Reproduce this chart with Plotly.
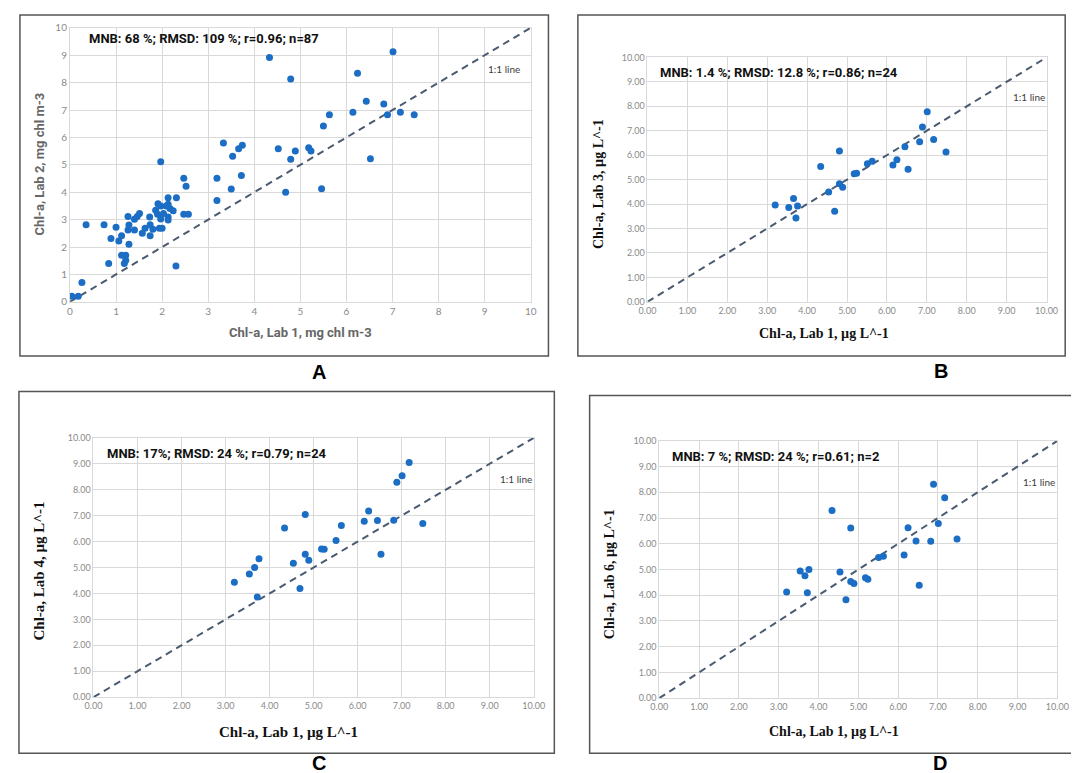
import plotly.graph_objects as go

W, H = 1079, 773

# ---------------- data ----------------
# Panel A: Lab 1 vs Lab 2
lab1_a = [0.04, 0.18, 0.26, 0.35, 0.74, 0.84, 0.89, 1.00, 1.06, 1.12, 1.12, 1.21, 1.18, 1.21,
          1.26, 1.26, 1.28, 1.28, 1.40, 1.40, 1.46, 1.51, 1.57, 1.63, 1.73, 1.74, 1.74, 1.80,
          1.86, 1.90, 1.91, 1.97, 1.97, 1.97, 1.94, 2.00, 2.03, 2.09, 2.13, 2.13, 2.13, 2.13,
          2.17, 2.24, 2.31, 2.30, 2.47, 2.52, 2.47, 2.57, 3.19, 3.19, 3.33, 3.50, 3.53, 3.66,
          3.74, 3.72, 4.33, 4.52, 4.68, 4.79, 4.79, 4.89, 5.18, 5.23, 5.46, 5.50, 5.63, 6.14,
          6.24, 6.43, 6.52, 6.81, 6.89, 7.01, 7.17, 7.47]
lab2_a = [0.20, 0.20, 0.71, 2.81, 2.81, 1.40, 2.31, 2.72, 2.22, 2.41, 1.70, 1.70, 1.40, 1.52,
          3.11, 2.62, 2.80, 2.10, 3.01, 2.62, 3.11, 3.22, 2.50, 2.69, 3.10, 2.81, 2.41, 2.65,
          3.34, 3.20, 3.58, 3.50, 5.11, 3.02, 2.69, 2.69, 3.22, 3.50, 3.80, 3.56, 3.10, 2.99,
          3.41, 3.32, 3.80, 1.31, 4.51, 4.22, 3.20, 3.20, 4.51, 3.70, 5.80, 4.12, 5.31, 5.59,
          5.71, 4.61, 8.92, 5.59, 4.00, 8.13, 5.20, 5.50, 5.62, 5.50, 4.13, 6.42, 6.83, 6.92,
          8.34, 7.32, 5.22, 7.22, 6.83, 9.13, 6.92, 6.83]

# Panels B, C, D share Lab 1 values
lab1 = [3.20, 3.54, 3.66, 3.76, 3.72, 4.34, 4.54, 4.69, 4.81, 4.81, 4.89, 5.18, 5.24, 5.51,
        5.63, 6.15, 6.25, 6.45, 6.53, 6.82, 6.89, 7.01, 7.17, 7.48]
lab3 = [3.96, 3.86, 4.23, 3.92, 3.43, 5.54, 4.49, 3.71, 6.17, 4.83, 4.69, 5.24, 5.26, 5.65,
        5.75, 5.60, 5.81, 6.34, 5.42, 6.55, 7.15, 7.78, 6.64, 6.13]
lab4 = [4.43, 4.75, 5.00, 5.34, 3.86, 6.52, 5.16, 4.19, 7.04, 5.51, 5.28, 5.71, 5.70, 6.04,
        6.62, 6.78, 7.18, 6.81, 5.51, 6.82, 8.29, 8.54, 9.05, 6.70]
lab6 = [4.12, 4.94, 4.76, 5.00, 4.10, 7.29, 4.90, 3.82, 6.61, 4.53, 4.46, 4.68, 4.62, 5.47,
        5.51, 5.56, 6.62, 6.11, 4.39, 6.10, 8.31, 6.79, 7.79, 6.18]

one_to_one = [0, 10]

stats = {
    "A": "MNB: 68 %; RMSD: 109 %; r=0.96; n=87",
    "B": "MNB: 1.4 %; RMSD: 12.8 %; r=0.86; n=24",
    "C": "MNB: 17%; RMSD: 24 %; r=0.79; n=24",
    "D": "MNB: 7 %; RMSD: 24 %; r=0.61; n=2",
}
ytitles = {
    "A": "Chl-a, Lab 2, mg chl m-3",
    "B": "Chl-a, Lab 3, µg L^-1",
    "C": "Chl-a, Lab 4, µg L^-1",
    "D": "Chl-a, Lab 6, µg L^-1",
}
xtitle_a = "Chl-a, Lab 1, mg chl m-3"
xtitle_bcd = "Chl-a, Lab 1, µg L^-1"

# ---------------- layout helpers ----------------
def px(x):
    return x / W

def py(y):
    return 1 - y / H

# plot areas in pixels: (x0, x1, ytop, ybottom)
areas = {
    "A": (54, 524, 14, 292),
    "B": (643, 1050, 44, 292),
    "C": (78, 527, 430, 693),
    "D": (655, 1061, 433, 694),
}
frames = {
    "A": (3, 542, 1, 347),
    "B": (572, 1069, 1, 347),
    "C": (2, 548, 383, 750),
    "D": (584, 1078, 387, 750),
}

BLUE = "#1b6ec4"
DASH = "#4a5a70"
GRID = "#d9d9d9"
SANS = "Lato"
BOLD_SANS = "Roboto"
SERIF = "Liberation Serif"


def ann(text, x, y, font, angle=0, xanchor="center"):
    return dict(text=text, x=px(x), y=py(y), xref="paper", yref="paper", showarrow=False,
                xanchor=xanchor, yanchor="middle", textangle=angle, font=font)


fig = go.Figure()
panels = [("A", lab1_a, lab2_a), ("B", lab1, lab3), ("C", lab1, lab4), ("D", lab1, lab6)]
layout = {}
annotations = []
shapes = []

for i, (key, xs, ys) in enumerate(panels):
    n = "" if i == 0 else str(i + 1)
    xa, ya = "x" + n, "y" + n
    fig.add_trace(go.Scatter(x=one_to_one, y=one_to_one, mode="lines", xaxis=xa, yaxis=ya,
                             line=dict(color=DASH, width=2, dash="7px,5px"),
                             showlegend=False, hoverinfo="skip"))
    fig.add_trace(go.Scatter(x=xs, y=ys, mode="markers", xaxis=xa, yaxis=ya,
                             marker=dict(color=BLUE, size=7), showlegend=False))
    x0, x1, yt, yb = areas[key]
    tickfmt = None if key == "A" else ".2f"
    tfs = 10 if key == "A" else 9
    common = dict(range=[0, 10], dtick=1, showgrid=True, gridcolor=GRID, gridwidth=1,
                  zeroline=False, showline=True, linecolor=GRID, mirror=True, ticks="",
                  tickformat=tickfmt, tickfont=dict(family=SANS, size=tfs, color="#8a8a8a"),
                  fixedrange=True)
    layout["xaxis" + n] = dict(domain=[px(x0), px(x1)], anchor=ya, **common)
    layout["yaxis" + n] = dict(domain=[py(yb), py(yt)], anchor=xa, **common)
    fx0, fx1, fyt, fyb = frames[key]
    shapes.append(dict(type="rect", xref="paper", yref="paper", x0=px(fx0), x1=px(fx1),
                       y0=py(fyb), y1=py(fyt), line=dict(color="#555555", width=1.5)))

stat_font = dict(family=BOLD_SANS, size=13, color="#111111", weight="bold")
for key, (x, y) in {"A": (71, 25), "B": (654, 59), "C": (90, 446), "D": (666, 449)}.items():
    annotations.append(ann(stats[key], x, y, stat_font, xanchor="left"))

one_font = dict(family=SANS, size=10, color="#404040")
for key, (x, y) in {"A": (515, 56), "B": (1050, 84), "C": (527, 472), "D": (1061, 475)}.items():
    annotations.append(ann("1:1 line", x, y, one_font, xanchor="right"))

a_title_font = dict(family=BOLD_SANS, size=13, color="#666666", weight="bold")
annotations.append(ann(xtitle_a, 289, 323, a_title_font))
annotations.append(ann(ytitles["A"], 23, 152, a_title_font, angle=-90))

for key, (xt, yx, ytx, yty, fs) in {"B": (823, 324, 593, 172, 14), "C": (277, 728, 22, 565, 15),
                                    "D": (833, 728, 605, 568, 14)}.items():
    serif_font = dict(family=SERIF, size=fs, color="#111111", weight="bold")
    annotations.append(ann(xtitle_bcd, xt, yx, serif_font))
    annotations.append(ann(ytitles[key], ytx, yty, serif_font, angle=-90))

letter_font = dict(family="Liberation Sans", size=20, color="#000000", weight="bold")
for key, (x, y) in {"A": (308, 363), "B": (942, 362), "C": (308, 760), "D": (941, 760)}.items():
    annotations.append(ann(key, x, y, letter_font))

fig.update_layout(width=W, height=H, margin=dict(l=0, r=0, t=0, b=0),
                  paper_bgcolor="white", plot_bgcolor="white",
                  annotations=annotations, shapes=shapes, **layout)

fig.write_html("out.html", config={"displayModeBar": False})
